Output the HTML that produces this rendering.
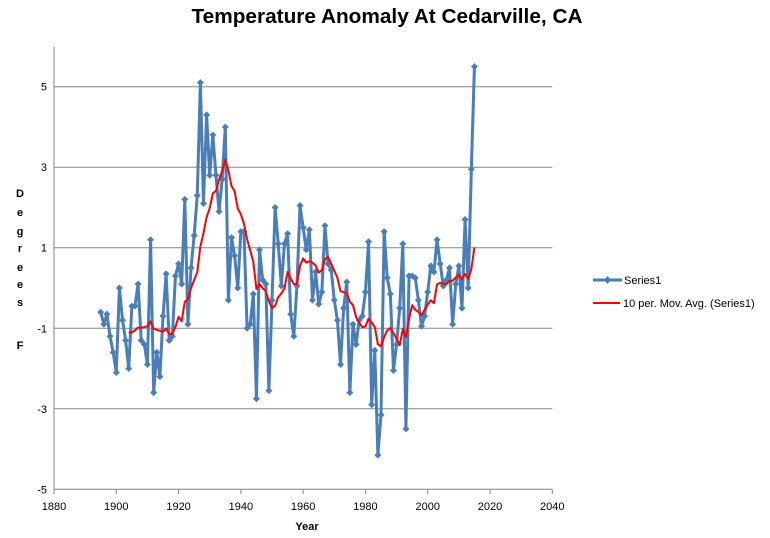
<!DOCTYPE html>
<html><head><meta charset="utf-8"><style>
html,body{margin:0;padding:0;background:#fff;}
svg{display:block;font-family:"Liberation Sans",sans-serif;}
</style></head><body>
<svg id="chart" width="770" height="538" viewBox="0 0 770 538">
<text x="387" y="23" text-anchor="middle" font-size="20" font-weight="bold" textLength="391" lengthAdjust="spacingAndGlyphs">Temperature Anomaly At Cedarville, CA</text>
<g font-size="11" font-weight="bold" text-anchor="middle">
<text x="20" y="197">D</text><text x="20" y="216">e</text><text x="20" y="235">g</text><text x="20" y="252">r</text><text x="20" y="271">e</text><text x="20" y="288">e</text><text x="20" y="306">s</text><text x="20" y="349">F</text>
</g>
<text x="307" y="530" text-anchor="middle" font-size="11" font-weight="bold">Year</text>
<g id="grid"></g>
<g id="axes"></g>
<g id="series"></g>
<g>
<g>
<line x1="593" y1="280" x2="622" y2="280" stroke="#4a7ebb" stroke-width="3"/>
<path d="M607.5 276 L611 280 L607.5 284 L604 280 Z" fill="#4a7ebb"/>
<text x="624" y="284" font-size="11">Series1</text>
</g>
<g>
<line x1="593" y1="303" x2="620" y2="303" stroke="#ff0000" stroke-width="2"/>
<text x="623" y="307" font-size="11">10 per. Mov. Avg. (Series1)</text>
</g>
</g>
</svg>
<script>
const startYear = 1895;
const values = [-0.6,-0.9,-0.65,-1.2,-1.6,-2.1,0.0,-0.8,-1.3,-2.0,-0.45,-0.45,0.1,-1.3,-1.4,-1.9,1.2,-2.6,-1.6,-2.2,-0.7,0.35,-1.3,-1.2,0.3,0.6,0.1,2.2,-0.9,0.5,1.3,2.3,5.1,2.1,4.3,2.8,3.8,2.8,1.9,2.7,4.0,-0.3,1.25,0.8,0.0,1.4,1.4,-1.0,-0.9,-0.15,-2.75,0.95,0.2,0.1,-2.55,-0.3,2.0,1.1,0.05,1.1,1.35,-0.65,-1.2,0.05,2.05,1.5,0.95,1.45,-0.3,0.4,-0.4,-0.1,1.55,0.6,0.45,-0.3,-0.8,-1.9,-0.5,0.15,-2.6,-0.9,-1.4,-0.8,-0.7,-0.1,1.15,-2.9,-1.55,-4.15,-3.15,1.4,0.25,-0.15,-2.05,-1.4,-0.5,1.1,-3.5,0.3,0.3,0.25,-0.3,-0.95,-0.7,-0.1,0.55,0.4,1.2,0.6,0.05,0.2,0.5,-0.9,0.1,0.55,-0.5,1.7,0.0,2.95,5.5];
const xTicks = [1880,1900,1920,1940,1960,1980,2000,2020,2040];
const yTicks = [5,3,1,-1,-3,-5];
const maPeriod = 10;

const NS = "http://www.w3.org/2000/svg";
function xs(yr){ return 54 + (yr-1880)*(552.3-54)/160; }
function ys(v){ return 489.3 - (v+5)*(489.3-86.7)/10; }
function mk(tag, attrs, parent){ const e=document.createElementNS(NS,tag); for(const k in attrs) e.setAttribute(k,attrs[k]); parent.appendChild(e); return e; }

const grid=document.getElementById('grid'), axes=document.getElementById('axes'), ser=document.getElementById('series');
yTicks.forEach(t=>{
  if(t>-5){ const g=mk('line',{x1:54,x2:552.3,y1:ys(t),y2:ys(t),stroke:'#868686','stroke-width':1},grid);
    
     }
  const l=mk('text',{x:47,y:ys(t)+4,'text-anchor':'end','font-size':11},axes); l.textContent=t;
  
  
});
mk('line',{x1:54,x2:54,y1:46.7,y2:489.3,stroke:'#868686','stroke-width':1},axes);
mk('line',{x1:54,x2:552.3,y1:489.3,y2:489.3,stroke:'#868686','stroke-width':1},axes);
xTicks.forEach(t=>{
  mk('line',{x1:xs(t),x2:xs(t),y1:489.3,y2:494,stroke:'#868686','stroke-width':1},axes);
  const l=mk('text',{x:xs(t),y:510,'text-anchor':'middle','font-size':11},axes); l.textContent=t;
  
  
});
const pts=values.map((v,i)=>[xs(startYear+i),ys(v)]);
const line=mk('polyline',{points:pts.map(p=>p.join(',')).join(' '),fill:'none',stroke:'#4a7ebb','stroke-width':3,'stroke-linejoin':'round'},ser);


pts.forEach(p=>{
  const d=mk('path',{d:`M${p[0]} ${p[1]-3.5} L${p[0]+3.5} ${p[1]} L${p[0]} ${p[1]+3.5} L${p[0]-3.5} ${p[1]} Z`,fill:'#4a7ebb'},ser);
  
  
});
const ma=[];
for(let i=maPeriod-1;i<values.length;i++){ let s=0; for(let j=i-maPeriod+1;j<=i;j++) s+=values[j]; ma.push([xs(startYear+i),ys(s/maPeriod)]); }
const mal=mk('polyline',{points:ma.map(p=>p.join(',')).join(' '),fill:'none',stroke:'#ff0000','stroke-width':2,'stroke-linejoin':'round'},ser);


</script>
</body></html>
